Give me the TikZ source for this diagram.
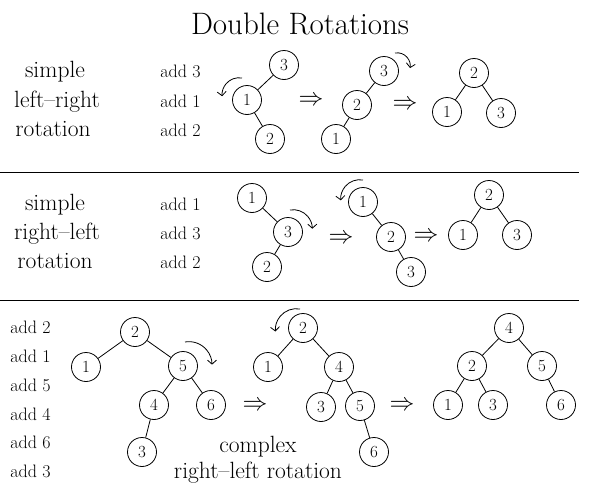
\documentclass[tikz,border=0pt]{standalone}
\usetikzlibrary{arrows.meta}

\tikzset{
	key/.style={draw, circle, minimum size=29pt, inner sep=0pt, font=\fontsize{17}{17}\selectfont},
	sidetext/.style={anchor=base, inner sep=0pt, font=\fontsize{23.5}{23.5}\selectfont},
	addtext/.style={anchor=base west, inner sep=0pt, font=\fontsize{18}{18}\selectfont},
	implies/.style={inner sep=0pt, font=\fontsize{28}{28}\selectfont},
	turn/.style={->}
}

\begin{document}
\begin{tikzpicture}[x=1pt, y=1pt, line width=0.8pt, >={Straight Barb[length=4pt,width=9pt]}]
	\useasboundingbox (0,0) rectangle (590,-490);
	\node[anchor=base, inner sep=0pt, font=\fontsize{31}{31}\selectfont] (title) at (300,-34) {Double Rotations};
	% separators
	\coordinate (sepAl) at (0,-172);
	\coordinate (sepAr) at (579,-172);
	\coordinate (sepBl) at (0,-300);
	\coordinate (sepBr) at (579,-300);
	\draw (sepAl) -- (sepAr);
	\draw (sepBl) -- (sepBr);

	% simple left-right rotation
	\node[sidetext] (lrA) at (55,-77) {simple};
	\node[sidetext] (lrB) at (57,-107) {left--right};
	\node[sidetext] (lrC) at (53,-136) {rotation};
	\node[addtext] (lrD) at (160,-77) {add 3};
	\node[addtext] (lrE) at (160,-107) {add 1};
	\node[addtext] (lrF) at (160,-136) {add 2};
	\node[key] (A3) at (284,-65) {3};
	\node[key] (A1) at (247,-100) {1};
	\node[key] (A2) at (270,-139) {2};
	\draw (A3) -- (A1) -- (A2);
	\draw[turn] ([shift={(-5,22)}]A1.center) arc[start angle=80, end angle=185, radius=17];
	\node[implies] (iA) at (311,-101) {$\Rightarrow$};
	\node[key] (B3) at (384,-71) {3};
	\node[key] (B2) at (357,-105) {2};
	\node[key] (B1) at (336,-139) {1};
	\draw (B3) -- (B2) -- (B1);
	\draw[turn] ([shift={(11,18)}]B3.center) arc[start angle=100, end angle=-10, radius=13];
	\node[implies] (iB) at (405,-105) {$\Rightarrow$};
	\node[key] (C2) at (474,-73) {2};
	\node[key] (C1) at (447,-112) {1};
	\node[key] (C3) at (501,-113) {3};
	\draw (C1) -- (C2) -- (C3);

	% simple right-left rotation
	\node[sidetext] (rlA) at (55,-210) {simple};
	\node[sidetext] (rlB) at (57,-239) {right--left};
	\node[sidetext] (rlC) at (55,-268) {rotation};
	\node[addtext] (rlD) at (160,-210) {add 1};
	\node[addtext] (rlE) at (160,-239) {add 3};
	\node[addtext] (rlF) at (160,-268) {add 2};
	\node[key] (D1) at (252,-198) {1};
	\node[key] (D3) at (288,-232) {3};
	\node[key] (D2) at (267,-267) {2};
	\draw (D1) -- (D3) -- (D2);
	\draw[turn] ([shift={(2,22)}]D3.center) arc[start angle=100, end angle=0, radius=19];
	\node[implies] (iD) at (341,-239) {$\Rightarrow$};
	\node[key] (E1) at (363,-202) {1};
	\node[key] (E2) at (391,-237) {2};
	\node[key] (E3) at (411,-272) {3};
	\draw (E1) -- (E2) -- (E3);
	\draw[turn] ([shift={(0,22)}]E1.center) arc[start angle=80, end angle=185, radius=19];
	\node[implies] (iE) at (426,-237) {$\Rightarrow$};
	\node[key] (F2) at (489,-195) {2};
	\node[key] (F1) at (463,-235) {1};
	\node[key] (F3) at (517,-235) {3};
	\draw (F1) -- (F2) -- (F3);

	% complex right-left rotation
	\node[addtext] (cxA) at (10,-333) {add 2};
	\node[addtext] (cxB) at (10,-362) {add 1};
	\node[addtext] (cxC) at (10,-391) {add 5};
	\node[addtext] (cxD) at (10,-420) {add 4};
	\node[addtext] (cxE) at (10,-448) {add 6};
	\node[addtext] (cxF) at (10,-477) {add 3};
	\node[key] (G2) at (135,-332) {2};
	\node[key] (G1) at (86,-367) {1};
	\node[key] (G5) at (183,-366) {5};
	\node[key] (G4) at (154,-405) {4};
	\node[key] (G6) at (211,-405) {6};
	\node[key] (G3) at (142,-452) {3};
	\draw (G1) -- (G2) -- (G5) -- (G4) -- (G3);
	\draw (G5) -- (G6);
	\draw[turn] ([shift={(2,24)}]G5.center) arc[start angle=100, end angle=0, radius=23];
	\node[implies] (iG) at (255,-406) {$\Rightarrow$};
	\node[key] (H2) at (303,-328) {2};
	\node[key] (H1) at (268,-367) {1};
	\node[key] (H4) at (339,-367) {4};
	\node[key] (H3) at (321,-407) {3};
	\node[key] (H5) at (360,-406) {5};
	\node[key] (H6) at (374,-452) {6};
	\draw (H1) -- (H2) -- (H4) -- (H3);
	\draw (H4) -- (H5) -- (H6);
	\draw[turn] ([shift={(-3,19)}]H2.center) arc[start angle=80, end angle=185, radius=21];
	\node[implies] (iH) at (402,-406) {$\Rightarrow$};
	\node[key] (K4) at (509,-328) {4};
	\node[key] (K2) at (472,-366) {2};
	\node[key] (K5) at (542,-366) {5};
	\node[key] (K1) at (448,-405) {1};
	\node[key] (K3) at (493,-405) {3};
	\node[key] (K6) at (561,-405) {6};
	\draw (K1) -- (K2) -- (K4) -- (K5) -- (K6);
	\draw (K2) -- (K3);
	\node[sidetext] (cxG) at (258,-452) {complex};
	\node[sidetext] (cxH) at (258,-478) {right--left rotation};
\end{tikzpicture}
\end{document}
